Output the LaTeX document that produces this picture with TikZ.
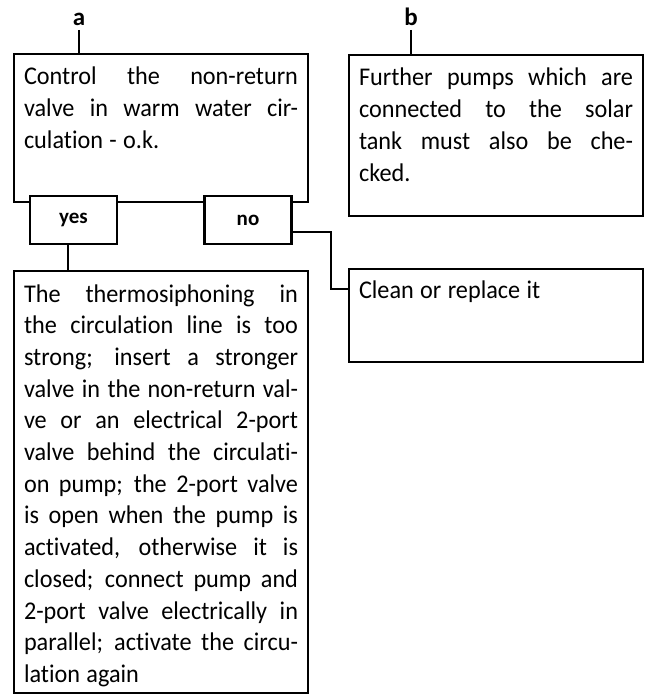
\documentclass[tikz,border=0pt]{standalone}
\usepackage{fontspec}
\setmainfont{Carlito}[Ligatures=NoCommon]
\newfontfamily\bodyfont{Carlito}[Ligatures=NoCommon,FakeStretch=0.95]
\usetikzlibrary{positioning}
\newcommand\justl[1]{\hbox to \linewidth{#1}}
\newcommand\firstl[1]{\hbox to \linewidth{\rule{0pt}{21pt}#1}}
\newcommand\lastl[1]{\hbox to \linewidth{#1\hskip 0pt plus 1filll\relax}}
\newcommand\boxtext[2]{\parbox[c][#1][t]{274pt}{\bodyfont\fontsize{25.5}{31.7}\selectfont\spaceskip=.25em plus 1fill minus .08em\relax#2}}
\tikzset{
  box/.style={draw, line width=2.4pt, anchor=north west, inner sep=10pt, outer sep=0pt, minimum width=294pt},
  ynbox/.style={draw, line width=2.4pt, fill=white, inner sep=0pt, outer sep=0pt, minimum width=87pt, minimum height=48pt, font=\fontsize{21}{24}\selectfont\bfseries},
  lbl/.style={font=\fontsize{25}{27}\selectfont\bfseries, inner sep=0pt, anchor=base},
  conn/.style={line width=2.4pt}
}
\begin{document}
\begin{tikzpicture}[x=1pt,y=-1pt]
\useasboundingbox (0,0) rectangle (648,695);
% boxes
\node[box, minimum height=148pt] (A) at (14,54) {\boxtext{128pt}{%
\firstl{Control the non-return}%
\justl{valve in warm water cir-}%
\lastl{culation - o.k.}}};
\node[box, minimum height=161pt] (B) at (349,55) {\boxtext{141pt}{%
\firstl{Further pumps which are}%
\justl{connected to the solar}%
\justl{tank must also be che-}%
\lastl{cked.}}};
\node[box, minimum height=422pt] (C) at (14,271) {\boxtext{402pt}{%
\firstl{The thermosiphoning in}%
\justl{the circulation line is too}%
\justl{strong; insert a stronger}%
\justl{valve in the non-return val-}%
\justl{ve or an electrical 2-port}%
\justl{valve behind the circulati-}%
\justl{on pump; the 2-port valve}%
\justl{is open when the pump is}%
\justl{activated, otherwise it is}%
\justl{closed; connect pump and}%
\justl{2-port valve electrically in}%
\justl{parallel; activate the circu-}%
\lastl{lation again}}};
\node[box, minimum height=93pt] (D) at (349,269) {\boxtext{73pt}{%
\lastl{\rule{0pt}{19pt}Clean or replace it}}};
% yes / no
\node[ynbox] (yes) at (73.5,220) {yes};
\node[ynbox] (no) at (248,220) {no};
% labels
\node[lbl] (la) at (79,26) {a};
\node[lbl] (lb) at (411,26) {b};
% connectors
\draw[conn] (79,30) -- (79,54);
\draw[conn] (411,30) -- (411,55);
\draw[conn] (yes.south -| 68,0) -- (68,271);
\coordinate (n1) at (331,232);
\draw[conn] (no.east |- n1) -- (n1) -- (331,289) -- (D.west |- 0,289);
\end{tikzpicture}
\end{document}
